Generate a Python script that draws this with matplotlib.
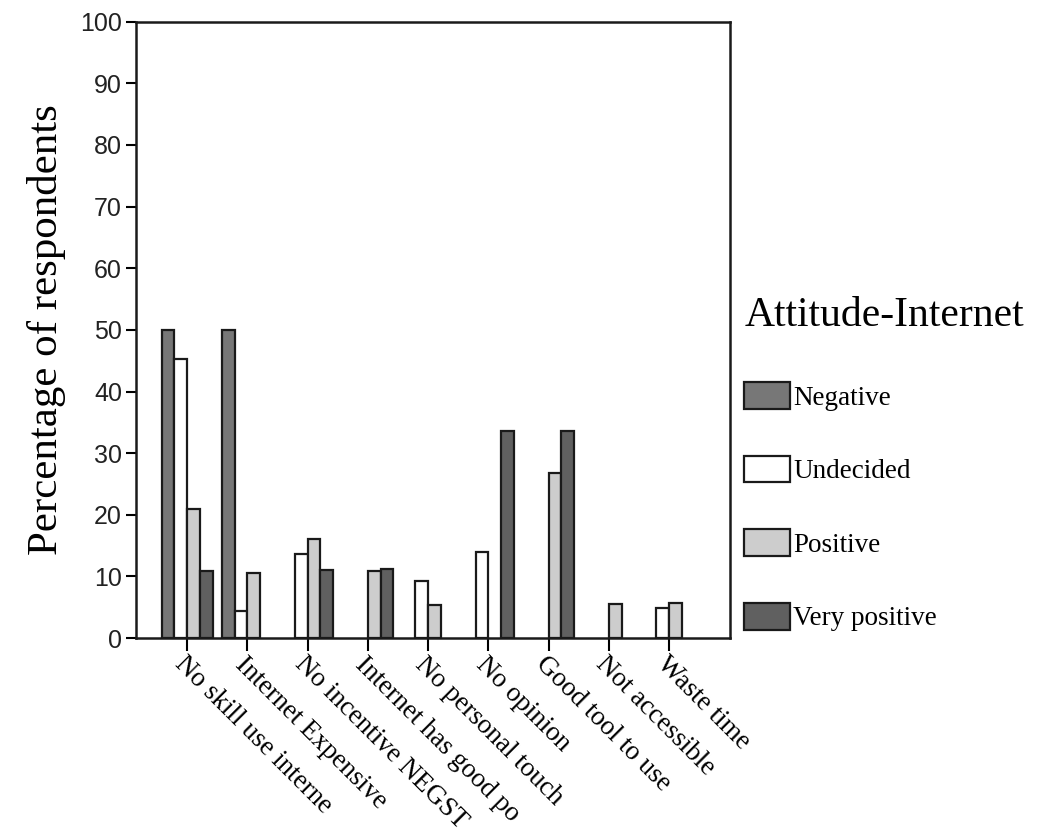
import numpy as np
import matplotlib.pyplot as plt

categories = [
    "No skill use interne",
    "Internet Expensive",
    "No incentive NEGST",
    "Internet has good po",
    "No personal touch",
    "No opinion",
    "Good tool to use",
    "Not accessible",
    "Waste time",
]
series_names = ["Negative", "Undecided", "Positive", "Very positive"]
negative = [50.0, 50.0, 0, 0, 0, 0, 0, 0, 0]
undecided = [45.2, 4.4, 13.7, 0, 9.3, 13.9, 0, 0, 4.9]
positive = [21.0, 10.6, 16.0, 10.9, 5.4, 0, 26.7, 5.5, 5.7]
very_positive = [10.9, 0, 11.1, 11.2, 0, 33.6, 33.6, 0, 0]
y_ticks = list(range(0, 101, 10))

colors = ["#777777", "#ffffff", "#cdcdcd", "#606060"]
serif = "Liberation Serif"

fig = plt.figure(figsize=(10.37, 8.33), dpi=100)
ax = fig.add_axes([0.131, 0.234, 0.573, 0.740])

x = np.arange(len(categories))
w = 0.211
handles = []
for i, (vals, c) in enumerate(zip([negative, undecided, positive, very_positive], colors)):
    vals = np.array(vals, dtype=float)
    keep = vals > 0
    h = ax.bar(x[keep] + (i - 1.5) * w, vals[keep], width=w, color=c,
               edgecolor="#1a1a1a", linewidth=1.6, label=series_names[i], zorder=2)
    handles.append(h)

ax.set_xlim(-0.85, 9.01)
ax.set_ylim(0, 100)
ax.set_yticks(y_ticks)
ax.set_yticklabels([str(t) for t in y_ticks], fontsize=18, family="Liberation Sans", color="#222222")
ax.set_xticks(x)
ax.set_xticklabels(categories, rotation=-45, ha="left", va="top", rotation_mode="anchor",
                   fontsize=19.5, family=serif)
ax.tick_params(axis="y", direction="out", length=7, width=1.5, pad=3)
ax.tick_params(axis="x", direction="out", length=9, width=1.5, pad=1)
for s in ax.spines.values():
    s.set_linewidth(1.8)
    s.set_color("#1a1a1a")

ax.set_ylabel("Percentage of respondents", fontsize=31, family=serif, labelpad=10)

leg = ax.legend(handles=handles, title="Attitude-Internet", loc="upper left",
                bbox_to_anchor=(0.983, 0.594), frameon=False, prop={"family": serif, "size": 19.5},
                handlelength=1.7, handleheight=1.15, handletextpad=0.1, labelspacing=1.66,
                alignment="left")
leg.get_title().set_fontsize(30)
leg.get_title().set_family(serif)
leg._legend_box.sep = 34

fig.savefig("out.png", dpi=100)
